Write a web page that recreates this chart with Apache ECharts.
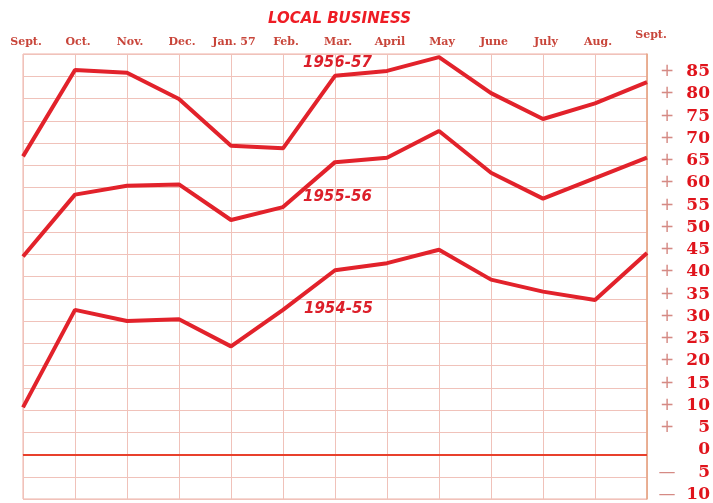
<!DOCTYPE html>
<html>
<head>
<meta charset="utf-8">
<script src="https://cdn.jsdelivr.net/npm/echarts@6/dist/echarts.min.js"></script>
<style>
  html, body { margin: 0; padding: 0; background: #fff; }
  #chart { width: 713px; height: 503px; }
</style>
</head>
<body>
<div id="chart"></div>
<script>
// months along the top, Sept. 1956 to Sept. 1957
const months = ['Sept.', 'Oct.', 'Nov.', 'Dec.', 'Jan. 57', 'Feb.', 'Mar.', 'April', 'May', 'June', 'July', 'Aug.', 'Sept.']
// one list per season
const season5657 = [67.0, 86.4, 85.8, 79.9, 69.4, 68.8, 85.1, 86.2, 89.3, 81.2, 75.4, 78.9, 83.7]
const season5556 = [44.5, 58.4, 60.4, 60.7, 52.7, 55.6, 65.7, 66.7, 72.7, 63.3, 57.5, 62.1, 66.7]
const season5455 = [10.6, 32.5, 30.0, 30.4, 24.3, 32.5, 41.4, 43.0, 46.0, 39.3, 36.6, 34.7, 45.3]
const seasonNames = ['1956-57', '1955-56', '1954-55']

const lineRed = '#e2222b'
const gridPink = '#f0c2ba'

const myChart = echarts.init(document.getElementById('chart'))

function seasonLine(name, data) {
  return {
    name: name,
    type: 'line',
    symbol: 'none',
    smooth: false,
    lineStyle: { color: lineRed, width: 4 },
    data: data
  }
}

function seasonTag(text, left, top) {
  return {
    type: 'text',
    left: left,
    top: top,
    style: {
      text: text,
      fill: '#dc1f2a',
      font: 'italic bold 15px "DejaVu Sans"'
    }
  }
}

const series = [
  seasonLine(seasonNames[0], season5657),
  seasonLine(seasonNames[1], season5556),
  seasonLine(seasonNames[2], season5455)
]
// heavy zero line
series[0].markLine = {
  silent: true,
  symbol: 'none',
  label: { show: false },
  lineStyle: { color: '#e8402c', width: 2, type: 'solid' },
  data: [{ yAxis: 0 }]
}

const monthFont = {
  color: '#c8453a',
  fontFamily: '"DejaVu Serif"',
  fontWeight: 'bold',
  fontSize: 11
}

const option = {
  animation: false,
  backgroundColor: '#fff',
  title: {
    text: 'LOCAL BUSINESS',
    left: 263,
    top: 7,
    textStyle: {
      color: '#ee1c24',
      fontFamily: 'DejaVu Sans',
      fontStyle: 'italic',
      fontWeight: 'bold',
      fontSize: 15
    }
  },
  grid: {
    left: 23,
    right: 66,
    top: 54,
    bottom: 2,
    show: true,
    borderColor: '#eeb0a6',
    borderWidth: 1
  },
  xAxis: {
    type: 'category',
    position: 'top',
    boundaryGap: false,
    data: months,
    axisTick: { show: false },
    axisLine: { lineStyle: { color: '#eeb0a6', width: 1 } },
    axisLabel: {
      margin: 6,
      interval: 0,
      formatter: function(value, idx) {
        return idx === months.length - 1 ? '{hi|' + value + '}' : '{m|' + value + '}'
      },
      rich: {
        m: Object.assign({ padding: [0, 0, 0, 6] }, monthFont),
        hi: Object.assign({ padding: [0, 0, 7, 8] }, monthFont)
      }
    },
    splitLine: { show: true, lineStyle: { color: gridPink, width: 1 } }
  },
  yAxis: {
    type: 'value',
    position: 'right',
    min: -10,
    max: 90,
    interval: 5,
    axisTick: { show: false },
    axisLine: { show: true, lineStyle: { color: '#e6a582', width: 1.5 } },
    splitLine: { show: true, lineStyle: { color: gridPink, width: 1 } },
    axisLabel: {
      margin: 10,
      padding: [0, 0, 9, 0],
      formatter: function(v) {
        if (v === 90) return ''
        const sign = v > 0 ? '+' : (v < 0 ? '—' : '')
        return '{s|' + sign + '}{n|' + Math.abs(v) + '}'
      },
      rich: {
        s: {
          width: 20,
          align: 'center',
          color: '#d58a84',
          fontFamily: '"DejaVu Sans"',
          fontSize: 17
        },
        n: {
          width: 33,
          align: 'right',
          color: '#e0141c',
          fontFamily: '"DejaVu Serif"',
          fontWeight: 'bold',
          fontSize: 17
        }
      }
    }
  },
  graphic: [
    seasonTag(seasonNames[0], 303, 56),
    seasonTag(seasonNames[1], 303, 190),
    seasonTag(seasonNames[2], 304, 302)
  ],
  series: series
}

myChart.setOption(option)
</script>
</body>
</html>
